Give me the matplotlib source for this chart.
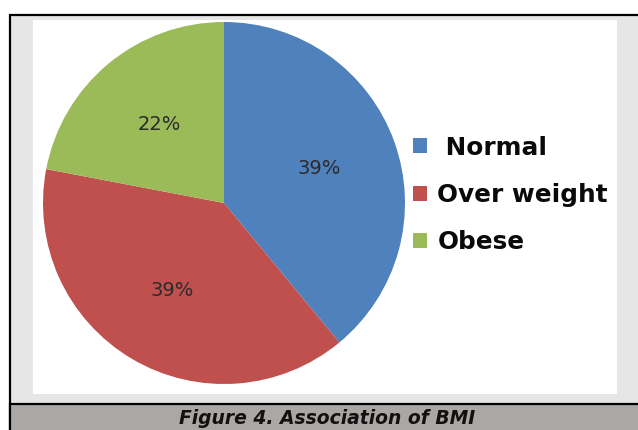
import matplotlib
matplotlib.use("Agg")
import matplotlib.pyplot as plt
from matplotlib.patches import Rectangle

categories = ["Normal", "Over weight", "Obese"]
values = [39, 39, 22]
colors = ["#4f81bd", "#c0504d", "#9bbb59"]
caption = "Figure 4. Association of BMI"

W, H = 638, 430
fig = plt.figure(figsize=(W / 100, H / 100), dpi=100, facecolor="white")


def fx(x):
    return x / W


def fy(y):
    return 1 - y / H


def rect(x0, y0, x1, y1, **kw):
    r = Rectangle((fx(x0), fy(y1)), fx(x1) - fx(x0), fy(y0) - fy(y1),
                  transform=fig.transFigure, figure=fig, zorder=-5, **kw)
    fig.patches.append(r)
    return r


# outer box
rect(10, 15, 660, 440, facecolor="#e6e6e6", edgecolor="black", linewidth=1.6)
# white plot area
rect(33, 20, 617, 394, facecolor="white", edgecolor="none")
# caption bar
rect(10, 404, 660, 440, facecolor="#aba7a5", edgecolor="black", linewidth=1.6)

# pie
cx, cy, r = 224, 203, 181
ax = fig.add_axes([fx(cx - r), fy(cy + r), 2 * r / W, 2 * r / H])
ax.set_zorder(1)
ax.patch.set_visible(False)
wedges, texts, autotexts = ax.pie(
    values, colors=colors, startangle=90, counterclock=False,
    autopct="%1.0f%%", pctdistance=0.56, radius=1,
    wedgeprops=dict(linewidth=0),
    textprops=dict(fontsize=14, color="#2b2b2b"))
ax.set_xlim(-1, 1)
ax.set_ylim(-1, 1)
ax.set_aspect("auto")
ax.axis("off")

legend_labels = [" " + categories[0]] + categories[1:]
leg = fig.legend(wedges, legend_labels, loc="center left",
                 bbox_to_anchor=(fx(413), fy(195)), frameon=False,
                 prop=dict(size=17.8, weight="bold"),
                 handlelength=0.57, handleheight=0.57, handletextpad=0.42,
                 labelspacing=0.95, borderpad=0, borderaxespad=0)
leg.set_zorder(2)
for t in leg.get_texts():
    t.set_color("#0a0a0a")

fig.text(fx(327), fy(418), caption, ha="center", va="center",
         fontsize=13.5, fontweight="bold", fontstyle="italic", color="#111111")

fig.savefig("out.png", dpi=100, facecolor="white")
